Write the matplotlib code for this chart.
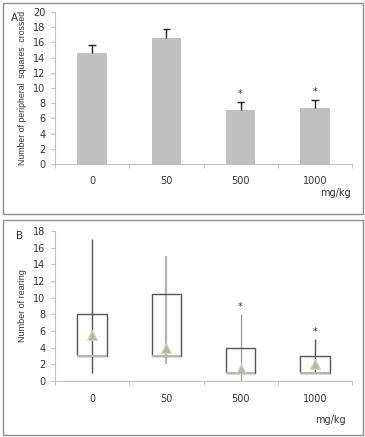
import matplotlib.pyplot as plt
from matplotlib.patches import Rectangle

# data
doses = ['0', '50', '500', '1000']
squares_mean = [14.6, 16.6, 7.1, 7.4]
squares_err = [1.0, 1.1, 1.0, 1.0]
squares_sig = [False, False, True, True]

rear_min = [1, 2, 0, 1]
rear_q1 = [3, 3, 1, 1]
rear_q3 = [8, 10.5, 4, 3]
rear_max = [17, 15, 8, 5]
rear_mean = [5.5, 4.0, 1.5, 2.0]
rear_sig = [False, False, True, True]

plt.rcParams['font.family'] = ['DejaVu Sans']
txt = '#333333'
axis_col = '#bfbfbf'

fig = plt.figure(figsize=(3.65, 4.37), dpi=100)

# panel borders
for y0, h in [(1 - 214 / 437, 211 / 437), (1 - 435 / 437, 215 / 437)]:
    fig.patches.append(Rectangle((3 / 365, y0), 360 / 365, h, transform=fig.transFigure,
                                 fill=False, edgecolor='#8c8c8c', linewidth=1.0))


def style_axes(ax, ymax, ystep):
    for s in ['top', 'right']:
        ax.spines[s].set_visible(False)
    for s in ['left', 'bottom']:
        ax.spines[s].set_color(axis_col)
        ax.spines[s].set_linewidth(0.8)
    ax.set_xlim(-0.5, len(doses) - 0.5)
    ax.set_ylim(0, ymax)
    ax.set_yticks(range(0, ymax + 1, ystep))
    ax.set_xticks(range(len(doses)))
    ax.set_xticklabels(doses)
    ax.set_xticks([i - 0.5 for i in range(len(doses) + 1)], minor=True)
    ax.tick_params(axis='x', which='major', length=0, pad=9, labelsize=7, labelcolor=txt)
    ax.tick_params(axis='x', which='minor', length=3, color=axis_col, direction='out')
    ax.tick_params(axis='y', length=3, color=axis_col, labelsize=7, labelcolor=txt, pad=4)


# panel A
axA = fig.add_axes([55 / 365, 1 - 164 / 437, 297 / 365, 152 / 437])
x = list(range(len(doses)))
axA.bar(x, squares_mean, width=0.4, color='#c0c0c0', zorder=2)
tops = [m + e for m, e in zip(squares_mean, squares_err)]
axA.vlines(x, squares_mean, tops, color='#222222', linewidth=1.0, zorder=3)
axA.hlines(tops, [i - 0.05 for i in x], [i + 0.05 for i in x], color='#222222',
           linewidth=1.0, zorder=3)
for i, s in enumerate(squares_sig):
    if s:
        axA.text(i, tops[i] + 1.1, '*', ha='center', va='center', fontsize=7, color=txt)
style_axes(axA, 20, 2)
axA.set_ylabel('Number of peripheral  squares  crossed', fontsize=6.3, color=txt,
               labelpad=4, family=['Liberation Sans'])
fig.text(14 / 365, 1 - 18 / 437, 'A', fontsize=7.5, color=txt, ha='center', va='center')
fig.text(335 / 365, 1 - 193 / 437, 'mg/kg', fontsize=7, color=txt, ha='center', va='center')

# panel B
axB = fig.add_axes([55 / 365, 1 - 381 / 437, 297 / 365, 150 / 437])
whisk_cols = ['#555555', '#b5b5b5', '#9a9a9a', '#555555']
whisk_lw = [1.0, 1.6, 0.9, 1.0]
for i in range(len(doses)):
    axB.vlines(i, rear_min[i], rear_max[i], color=whisk_cols[i], linewidth=whisk_lw[i], zorder=2)
    w = 0.4
    axB.add_patch(Rectangle((i - w / 2, rear_q1[i]), w, rear_q3[i] - rear_q1[i], fill=False,
                            edgecolor='#555555', linewidth=1.0, zorder=3))
    axB.hlines(rear_q1[i], i - w / 2, i + w / 2, color='#b5b5b5', linewidth=1.5, zorder=4)
    if rear_sig[i]:
        axB.text(i, rear_max[i] + 0.9, '*', ha='center', va='center', fontsize=7, color=txt)
axB.plot(range(len(doses)), rear_mean, linestyle='none', marker='^', markersize=6.5,
         markerfacecolor='#b4b6ad', markeredgecolor='#cfdcae', markeredgewidth=0.8, zorder=5)
style_axes(axB, 18, 2)
axB.set_ylabel('Number of rearing', fontsize=6.5, color=txt, labelpad=4,
               family=['Liberation Sans'])
fig.text(20 / 365, 1 - 236 / 437, 'B', fontsize=7.5, color=txt, ha='center', va='center')
fig.text(330 / 365, 1 - 420 / 437, 'mg/kg', fontsize=7, color=txt, ha='center', va='center')

fig.savefig('out.png', dpi=100)
